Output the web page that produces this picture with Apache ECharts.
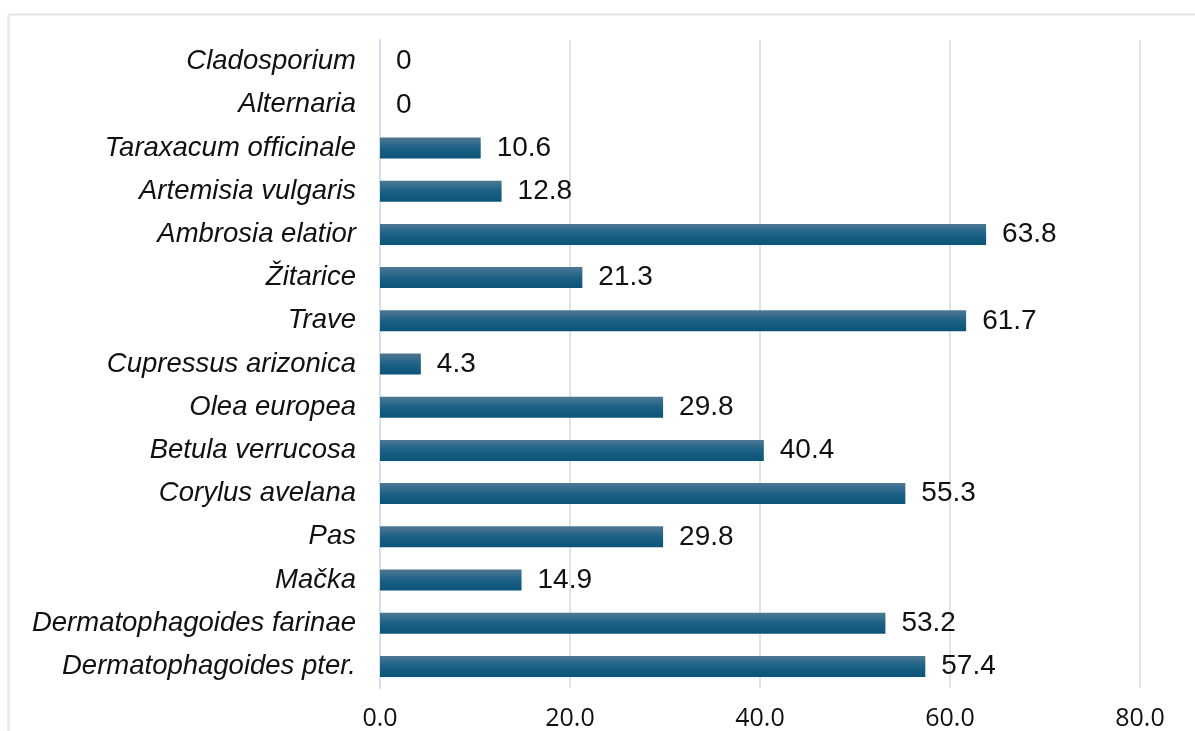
<!DOCTYPE html>
<html>
<head>
<meta charset="utf-8">
<style>
  html, body { margin: 0; padding: 0; background: #fff; }
  #chart { width: 1195px; height: 731px; }
</style>
<script src="https://cdn.jsdelivr.net/npm/echarts@6/dist/echarts.min.js"></script>
</head>
<body>
<div id="chart"></div>
<script>
// kategorije (odozdo prema gore) i vrijednosti (%)
var categories = ['Dermatophagoides pter.', 'Dermatophagoides farinae', 'Mačka', 'Pas',
    'Corylus avelana', 'Betula verrucosa', 'Olea europea', 'Cupressus arizonica',
    'Trave', 'Žitarice', 'Ambrosia elatior', 'Artemisia vulgaris',
    'Taraxacum officinale', 'Alternaria', 'Cladosporium'];
var values = [57.4, 53.2, 14.9, 29.8, 55.3, 40.4, 29.8, 4.3, 61.7, 21.3, 63.8, 12.8, 10.6, 0, 0];
var xTicks = [0, 20, 40, 60, 80];

var myChart = echarts.init(document.getElementById('chart'));

var option = {
    animation: false,
    graphic: [{
        type: 'rect',
        shape: { x: 8.5, y: 14.5, width: 1300, height: 800 },
        style: { fill: 'none', stroke: '#e6e6e6', lineWidth: 2 },
        silent: true
    }],
    grid: {
        left: 380,
        right: 55,
        top: 40,
        bottom: 43
    },
    xAxis: {
        type: 'value',
        min: xTicks[0],
        max: xTicks[xTicks.length - 1],
        interval: 20,
        axisLine: { show: false },
        axisTick: { show: false },
        splitLine: { lineStyle: { color: '#e3e3e3', width: 2 } },
        axisLabel: {
            margin: 18,
            fontSize: 25,
            color: '#111',
            fontFamily: 'Open Sans',
            formatter: function (v) { return v.toFixed(1); }
        }
    },
    yAxis: {
        type: 'category',
        data: categories,
        axisLine: { lineStyle: { color: '#cfe0f3', width: 2 } },
        axisTick: { show: false },
        axisLabel: {
            margin: 24,
            fontSize: 27.5,
            fontStyle: 'italic',
            color: '#111',
            fontFamily: 'Liberation Sans'
        }
    },
    series: [{
        type: 'bar',
        data: values,
        barWidth: 21,
        itemStyle: {
            color: new echarts.graphic.LinearGradient(0, 0, 0, 1, [
                { offset: 0, color: '#4f7894' },
                { offset: 0.5, color: '#1c6185' },
                { offset: 1, color: '#0a5478' }
            ])
        },
        label: {
            show: true,
            position: 'right',
            distance: 16,
            fontSize: 28,
            color: '#111',
            fontFamily: 'Liberation Sans',
            formatter: function (p) { return p.value; }
        }
    }]
};

myChart.setOption(option);
</script>
</body>
</html>
